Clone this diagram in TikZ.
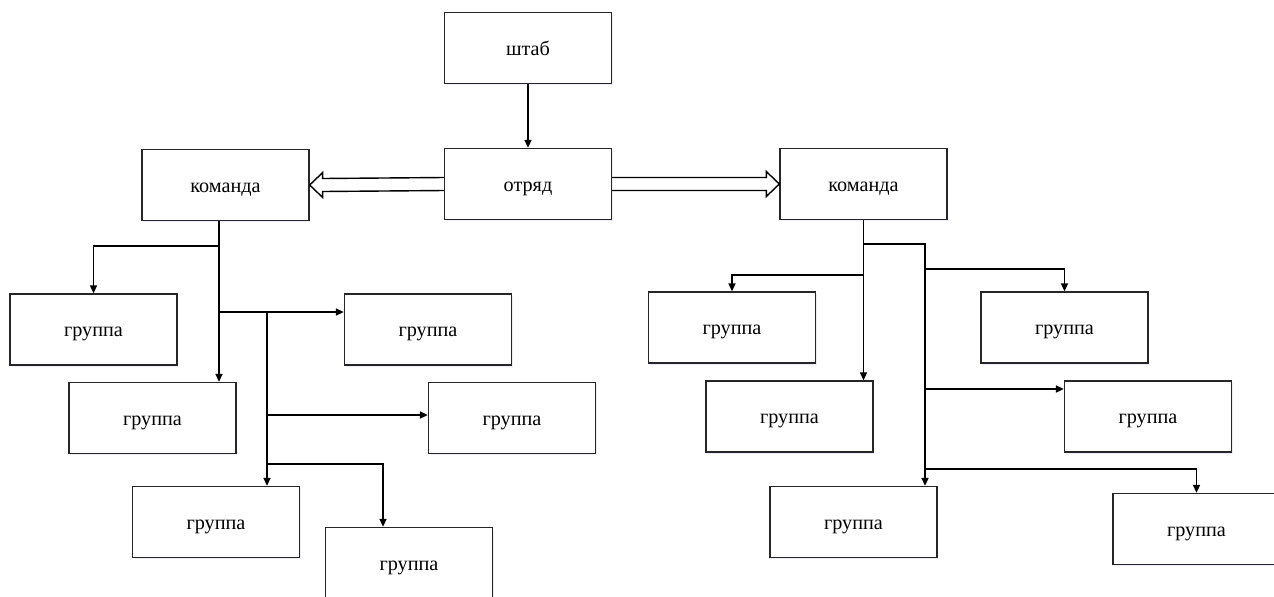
\documentclass[tikz,border=0pt]{standalone}
\usepackage{fontspec}
\setmainfont{Liberation Serif}
\usetikzlibrary{arrows.meta,calc,shadows}

\tikzset{
  unit/.style={draw=black!85, line width=0.8pt, fill=white, inner sep=0pt,
    minimum width=3.34cm, minimum height=1.42cm,
    font=\fontsize{11.5}{14}\selectfont, text height=10pt, text depth=1.5pt,
    drop shadow={shadow xshift=0.7pt, shadow yshift=-0.9pt, fill=blue!12, opacity=0.6}},
  link/.style={line width=0.8pt, -{Triangle[length=4.5pt,width=4pt]}},
  % outlined block arrow, #1 = 1 points left, -1 points right
  hollow/.style={line width=0.8pt, to path={
    ($(\tikztostart)+(0,-6.5)$) -- ($(\tikztotarget)+(#1*13,-6.5)$) -- ++(0,-6)
    -- (\tikztotarget) -- ($(\tikztotarget)+(#1*13,12.5)$) -- ++(0,-6)
    -- ($(\tikztostart)+(0,6.5)$)}}
}

\begin{document}
\begin{tikzpicture}[x=0.02cm,y=-0.02cm]
  \path[use as bounding box, clip] (0,0) rectangle (1274,596);

  \node[unit] (shtab)  at (528,48)  {штаб};
  \node[unit] (otryad) at (528,184) {отряд};
  \node[unit] (cmdL)   at (225.5,185) {команда};
  \node[unit] (cmdR)   at (863.5,184) {команда};

  % left groups
  \node[unit] (gL1) at (93.5,329.5) {группа};
  \node[unit] (gL2) at (152.5,418)  {группа};
  \node[unit] (gL3) at (428,329.5)  {группа};
  \node[unit] (gL4) at (512,418)    {группа};
  \node[unit] (gL5) at (216,522)    {группа};
  \node[unit] (gL6) at (409,563)    {группа};

  % right groups
  \node[unit] (gR1) at (732,327.5)    {группа};
  \node[unit] (gR2) at (789.5,416.5)  {группа};
  \node[unit] (gR3) at (1064.5,327.5) {группа};
  \node[unit] (gR4) at (1148,416.5)   {группа};
  \node[unit] (gR5) at (853.5,522)    {группа};
  \node[unit] (gR6) at (1196.5,529)   {группа};

  \draw[link] (shtab) -- (otryad);
  \draw[hollow=1]  (otryad.west) to (cmdL.east);
  \draw[hollow=-1] (otryad.east) to (cmdR.west);

  % left branches
  \coordinate (jL1) at (219,246);
  \coordinate (jL2) at (219,312);
  \coordinate (jL3) at (267,415);
  \coordinate (jL4) at (267,464);
  \coordinate (kL)  at (383,464);
  \draw[link] (cmdL.south -| jL1) -- (jL2 |- gL2.north);
  \draw[link] (jL1) -| (gL1.north);
  \draw[link] (jL2) -- (jL2 -| gL3.west);
  \draw[link] (jL2 -| jL3) -- (jL3 |- gL5.north);
  \draw[link] (jL3) -- (jL3 -| gL4.west);
  \draw[link] (jL4) -- (kL) -- (kL |- gL6.north);

  % right branches
  \coordinate (jR1) at (863.5,244);
  \coordinate (jR2) at (863.5,275);
  \coordinate (jR3) at (925,269);
  \coordinate (jR4) at (925,389);
  \coordinate (jR5) at (925,469);
  \draw[link] (cmdR.south) -- (cmdR.south |- gR2.north);
  \draw[link] (jR1) -- (jR1 -| jR3) -- (jR3 |- gR5.north);
  \draw[link] (jR2) -| (gR1.north);
  \draw[link] (jR3) -| (gR3.north);
  \draw[link] (jR4) -- (jR4 -| gR4.west);
  \draw[link] (jR5) -| (gR6.north);
\end{tikzpicture}
\end{document}
